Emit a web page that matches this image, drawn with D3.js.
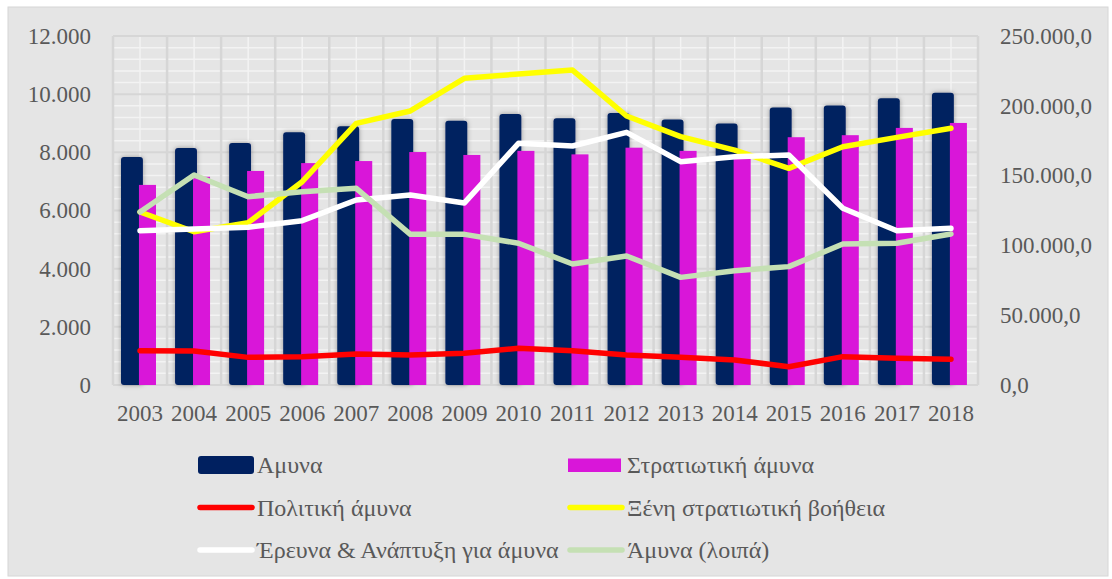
<!DOCTYPE html>
<html>
<head>
<meta charset="utf-8">
<script src="https://cdn.jsdelivr.net/npm/d3@7"></script>
<style>
  body { margin: 0; background: #ffffff; }
  #chart { width: 1112px; height: 579px; }
</style>
</head>
<body>
<div id="chart"></div>
<script>
// Data
const years = ["2003", "2004", "2005", "2006", "2007", "2008", "2009", "2010", "2011", "2012", "2013", "2014", "2015", "2016", "2017", "2018"];
const amyna = [7840, 8150, 8320, 8690, 8900, 9150, 9090, 9320, 9170, 9350, 9130, 8990, 9540, 9610, 9860, 10050];
const stratiotiki = [6880, 7160, 7360, 7630, 7700, 8010, 7910, 8050, 7930, 8160, 8050, 7900, 8520, 8590, 8840, 9010];
const politiki = [24600, 24400, 19800, 20300, 22200, 21500, 22700, 26300, 24600, 21500, 19800, 17900, 13100, 20300, 19100, 18400];
const xeni = [123900, 109800, 116300, 145600, 187400, 196300, 219700, 222800, 225600, 192700, 177900, 168300, 155200, 170700, 177400, 183900];
const erevna = [110500, 111700, 113000, 117700, 132500, 136100, 130400, 173100, 171200, 181000, 160000, 163500, 164700, 126600, 110500, 112200];
const loipa = [123900, 150400, 134900, 138500, 140900, 107900, 107900, 101500, 86700, 92400, 77100, 81900, 84800, 101000, 101500, 108200];
const leftTicks = [0, 2000, 4000, 6000, 8000, 10000, 12000];
const rightTicks = [0, 50000, 100000, 150000, 200000, 250000];

const barSeries = [
    { name: "Αμυνα", values: amyna, color: "#002060" },
    { name: "Στρατιωτική άμυνα", values: stratiotiki, color: "#d916d9" }
];
const lineSeries = [
    { name: "Πολιτική άμυνα", values: politiki, color: "#ff0000" },
    { name: "Ξένη στρατιωτική βοήθεια", values: xeni, color: "#ffff00" },
    { name: "Έρευνα & Ανάπτυξη για άμυνα", values: erevna, color: "#ffffff" },
    { name: "Άμυνα (λοιπά)", values: loipa, color: "#c5e0b4" }
];

const width = 1112, height = 579;
const plot = { left: 113, right: 978, top: 36, bottom: 385 };
const font = "Liberation Serif";
const textColor = "#595959";

const svg = d3.select("#chart").append("svg")
    .attr("width", width)
    .attr("height", height);

// Shadow for the navy bars
const defs = svg.append("defs");
defs.append("filter").attr("id", "barShadow")
    .attr("x", "-50%").attr("y", "-20%").attr("width", "200%").attr("height", "140%")
    .append("feDropShadow")
    .attr("dx", 0).attr("dy", 0)
    .attr("stdDeviation", 2.5)
    .attr("flood-color", "#000")
    .attr("flood-opacity", 0.35);

// Chart frame
svg.append("rect")
    .attr("x", 8).attr("y", 7)
    .attr("width", 1100).attr("height", 569)
    .attr("fill", "#e5e5e5")
    .attr("stroke", "#d6d6d6")
    .attr("stroke-width", 1);

// 1. Scales
const x = d3.scaleBand().domain(years).range([plot.left, plot.right]).padding(0);
const bw = x.bandwidth();
const yLeft = d3.scaleLinear().domain([0, 12000]).range([plot.bottom, plot.top]);
const yRight = d3.scaleLinear().domain([0, 250000]).range([plot.bottom, plot.top]);

// 2. Gridlines (minor white, major gray)
const grid = svg.append("g");
const minorY = d3.range(0, 12001, 400).filter(v => v % 2000 !== 0);
grid.selectAll(".minorY").data(minorY).enter().append("line")
    .attr("x1", plot.left).attr("x2", plot.right)
    .attr("y1", d => yLeft(d)).attr("y2", d => yLeft(d))
    .attr("stroke", "#f3f3f3").attr("stroke-width", 1.5);
grid.selectAll(".minorX").data(years).enter().append("line")
    .attr("x1", d => x(d) + bw / 2).attr("x2", d => x(d) + bw / 2)
    .attr("y1", plot.top).attr("y2", plot.bottom)
    .attr("stroke", "#f3f3f3").attr("stroke-width", 1.5);
grid.selectAll(".majorY").data(leftTicks).enter().append("line")
    .attr("x1", plot.left).attr("x2", plot.right)
    .attr("y1", d => yLeft(d)).attr("y2", d => yLeft(d))
    .attr("stroke", "#d6d6d6").attr("stroke-width", 2);
grid.selectAll(".majorX").data(years.concat(["end"])).enter().append("line")
    .attr("x1", d => d === "end" ? plot.right : x(d))
    .attr("x2", d => d === "end" ? plot.right : x(d))
    .attr("y1", plot.top).attr("y2", plot.bottom)
    .attr("stroke", "#d6d6d6").attr("stroke-width", 2.5);

// 3. Bars
const barGeom = [
    { offset: 0.148, w: 0.405, rx: 3, filter: "url(#barShadow)" },
    { offset: 0.48, w: 0.315, rx: 0, filter: null }
];
barSeries.forEach((s, i) => {
    const g = barGeom[i];
    svg.append("g").selectAll("rect")
        .data(years.map((yr, j) => ({ yr, v: s.values[j] })))
        .enter().append("rect")
        .attr("x", d => x(d.yr) + bw * g.offset)
        .attr("width", bw * g.w)
        .attr("y", d => yLeft(d.v))
        .attr("height", d => yLeft(0) - yLeft(d.v))
        .attr("rx", g.rx)
        .attr("fill", s.color)
        .attr("filter", g.filter);
});

// 4. Lines (secondary axis)
const line = d3.line()
    .x((d, j) => x(years[j]) + bw / 2)
    .y(d => yRight(d));
lineSeries.forEach(s => {
    svg.append("path")
        .datum(s.values)
        .attr("d", line)
        .attr("fill", "none")
        .attr("stroke", s.color)
        .attr("stroke-width", 5.5)
        .attr("stroke-linejoin", "round")
        .attr("stroke-linecap", "round");
});

// 5. Axes
const axisLeft = svg.append("g")
    .attr("transform", `translate(${plot.left},0)`)
    .call(d3.axisLeft(yLeft).tickValues(leftTicks).tickSize(0).tickPadding(22)
        .tickFormat(d => d3.format(",")(d).replace(/,/g, ".")));
const axisRight = svg.append("g")
    .attr("transform", `translate(${plot.right},0)`)
    .call(d3.axisRight(yRight).tickValues(rightTicks).tickSize(0).tickPadding(22)
        .tickFormat(d => d3.format(",.1f")(d).replace(/,/g, "#").replace(".", ",").replace(/#/g, ".")));
const axisBottom = svg.append("g")
    .attr("transform", `translate(0,${plot.bottom})`)
    .call(d3.axisBottom(x).tickSize(0).tickPadding(20));

[axisLeft, axisRight, axisBottom].forEach(a => {
    a.attr("font-family", font).attr("font-size", 23);
    a.select(".domain").remove();
    a.selectAll("text").attr("fill", textColor);
});

// 6. Legend
const legendItems = [
    { name: barSeries[0].name, color: barSeries[0].color, type: "bar" },
    { name: barSeries[1].name, color: barSeries[1].color, type: "bar" },
    { name: lineSeries[0].name, color: lineSeries[0].color, type: "line" },
    { name: lineSeries[1].name, color: lineSeries[1].color, type: "line" },
    { name: lineSeries[2].name, color: lineSeries[2].color, type: "line" },
    { name: lineSeries[3].name, color: lineSeries[3].color, type: "line" }
];
const legend = svg.append("g").attr("font-family", font).attr("font-size", 24);
legendItems.forEach((item, i) => {
    const col = i % 2, row = Math.floor(i / 2);
    const gx = col === 0 ? 198 : 568;
    const gy = 465 + row * 42.5;
    const g = legend.append("g").attr("transform", `translate(${gx},${gy})`);
    if (item.type === "bar") {
        g.append("rect")
            .attr("x", 0).attr("y", col === 0 ? -9 : -6.5)
            .attr("width", col === 0 ? 56 : 53)
            .attr("height", col === 0 ? 18 : 13.5)
            .attr("rx", col === 0 ? 3 : 0)
            .attr("fill", item.color);
    } else {
        g.append("line")
            .attr("x1", 2).attr("x2", 54)
            .attr("y1", 0).attr("y2", 0)
            .attr("stroke", item.color)
            .attr("stroke-width", 5.5)
            .attr("stroke-linecap", "round");
    }
    g.append("text")
        .attr("x", 59).attr("y", 8)
        .attr("fill", textColor)
        .text(item.name);
});
</script>
</body>
</html>
